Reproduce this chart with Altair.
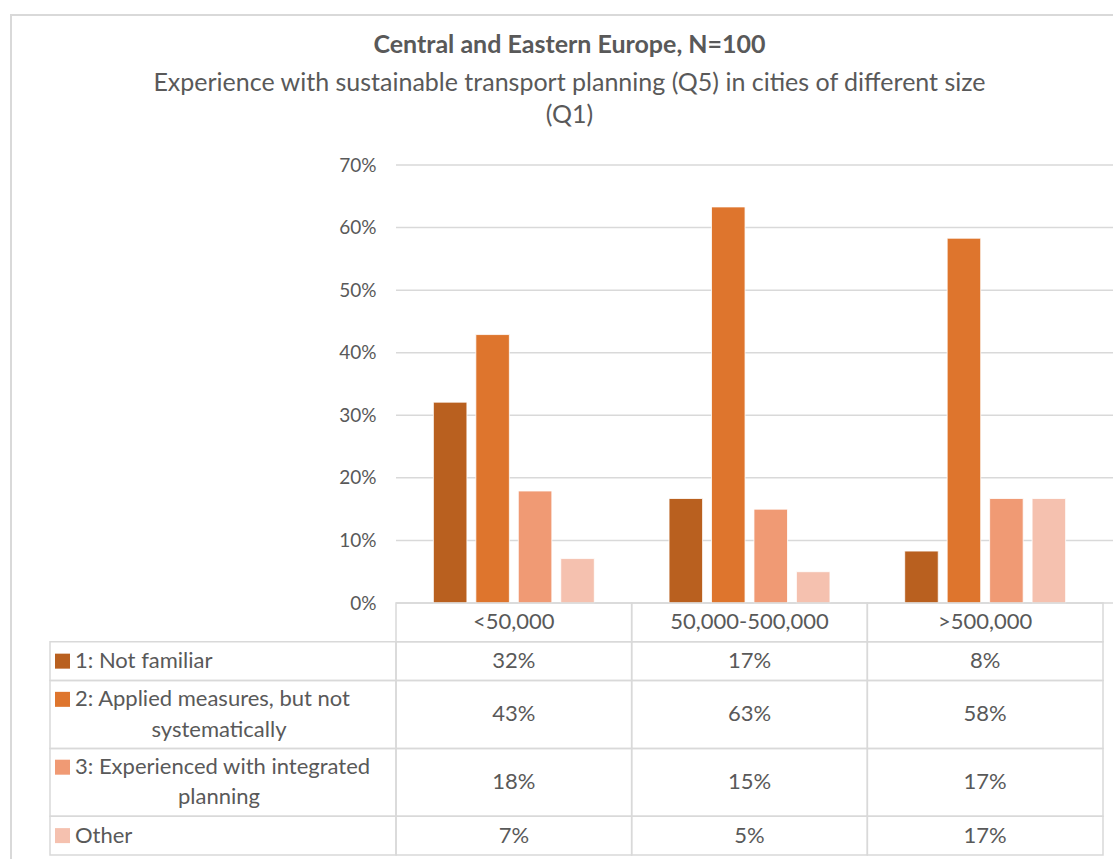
import altair as alt
import pandas as pd

# ---- data -------------------------------------------------------------
cities = ["<50,000", "50,000-500,000", ">500,000"]
series = [
    "1: Not familiar",
    "2: Applied measures, but not systematically",
    "3: Experienced with integrated planning",
    "Other",
]
series_lines = [
    ["1: Not familiar"],
    ["2: Applied measures, but not", "systematically"],
    ["3: Experienced with integrated", "planning"],
    ["Other"],
]
not_familiar = [0.321, 0.167, 0.083]
applied_measures = [0.429, 0.633, 0.583]
integrated_planning = [0.179, 0.150, 0.167]
other = [0.071, 0.050, 0.167]
y_ticks = [0.0, 0.1, 0.2, 0.3, 0.4, 0.5, 0.6, 0.7]

colors = ["#B9601F", "#DE752D", "#F09A74", "#F5C1AF"]
TEXT = "#595959"
LINE = "#D9D9D9"
FONT = "Lato"
TABLE_FS = 22

# ---- layout -----------------------------------------------------------
W, H = 1053, 690          # whole view: label column + plot / table
LABEL_W = 346             # width of the row-label column of the data table
PLOT_H = 438              # height of the bar plot
ONE_LINE, TWO_LINES = 1.0, 1.75   # row heights in table units

# ---- frames -----------------------------------------------------------
values_by_series = [not_familiar, applied_measures, integrated_planning, other]
bars = pd.DataFrame(
    [
        {"city": c, "series": s, "value": vals[i]}
        for s, vals in zip(series, values_by_series)
        for i, c in enumerate(cities)
    ]
)

rows = []
pos = ONE_LINE  # header row occupies the first unit
for s, lines in zip(series, series_lines):
    h = ONE_LINE if len(lines) == 1 else TWO_LINES
    mid = pos + h / 2
    rows.append(
        {
            "series": s,
            "top": pos,
            "bottom": pos + h,
            "mid": mid,
            "line1": lines[0],
            "line2": lines[1] if len(lines) > 1 else "",
            "y1": mid if len(lines) == 1 else mid - 0.39,
            "y2": mid + 0.39,
        }
    )
    pos += h
total_units = pos
rows = pd.DataFrame(rows)
cells = bars.merge(rows, on="series")
header = pd.DataFrame({"city": cities, "top": 0.0, "bottom": ONE_LINE, "mid": ONE_LINE / 2})
grid = pd.DataFrame({"tick": y_ticks})

# ---- scales -----------------------------------------------------------
x_city = alt.Scale(domain=cities, range=[LABEL_W, W], paddingInner=0, paddingOuter=0)
y_pct = alt.Scale(domain=[0, 0.7], range=[PLOT_H, 0], nice=False, zero=True)
y_tab = alt.Scale(domain=[0, total_units], range=[PLOT_H, H], nice=False, zero=False)
color_scale = alt.Scale(domain=series, range=colors)

X = alt.X("city:N", scale=x_city, axis=None, sort=cities)

# outer chart-area border
frame = alt.Chart(pd.DataFrame({"k": [0]})).mark_rect(
    fillOpacity=0, stroke=LINE, strokeWidth=2
).encode(x=alt.value(-39), x2=alt.value(1090), y=alt.value(-150), y2=alt.value(720))

gridlines = alt.Chart(grid).mark_rule(color=LINE, strokeWidth=1.5).encode(
    y=alt.Y("tick:Q", scale=y_pct, axis=None),
    x=alt.value(LABEL_W),
    x2=alt.value(W + 12),
)

bar_layer = alt.Chart(bars).mark_bar(stroke="white", strokeWidth=0.8).encode(
    x=X,
    xOffset=alt.XOffset(
        "series:N", scale=alt.Scale(domain=series, paddingInner=0.21, paddingOuter=0.88)
    ),
    y=alt.Y(
        "value:Q",
        scale=y_pct,
        axis=alt.Axis(
            values=y_ticks,
            format=".0%",
            offset=-LABEL_W,
            grid=False,
            domain=False,
            ticks=False,
            labelPadding=20,
            labelFontSize=19,
            labelFont=FONT,
            labelColor=TEXT,
            title=None,
        ),
    ),
    color=alt.Color("series:N", scale=color_scale, legend=None),
)

cell_style = dict(fillOpacity=0, stroke=LINE, strokeWidth=1.5)
text_style = dict(font=FONT, fontSize=TABLE_FS, color=TEXT, baseline="middle")

header_cells = alt.Chart(header).mark_rect(**cell_style).encode(
    x=X,
    y=alt.Y("top:Q", scale=y_tab, axis=None),
    y2="bottom:Q",
)
header_text = alt.Chart(header).mark_text(**text_style).encode(
    x=X, y=alt.Y("mid:Q", scale=y_tab, axis=None), text="city:N"
)

value_cells = alt.Chart(cells).mark_rect(**cell_style).encode(
    x=X,
    y=alt.Y("top:Q", scale=y_tab, axis=None),
    y2="bottom:Q",
)
value_text = alt.Chart(cells).mark_text(**text_style).encode(
    x=X,
    y=alt.Y("mid:Q", scale=y_tab, axis=None),
    text=alt.Text("value:Q", format=".0%"),
)

label_cells = alt.Chart(rows).mark_rect(**cell_style).encode(
    x=alt.value(0),
    x2=alt.value(LABEL_W),
    y=alt.Y("top:Q", scale=y_tab, axis=None),
    y2="bottom:Q",
)
label_keys = alt.Chart(rows).mark_square(size=225, opacity=1).encode(
    x=alt.value(12.5),
    y=alt.Y("y1:Q", scale=y_tab, axis=None),
    color=alt.Color("series:N", scale=color_scale, legend=None),
)
label_line1 = alt.Chart(rows).mark_text(align="left", **text_style).encode(
    x=alt.value(25),
    y=alt.Y("y1:Q", scale=y_tab, axis=None),
    text="line1:N",
)
label_line2 = alt.Chart(rows[rows["line2"] != ""]).mark_text(align="center", **text_style).encode(
    x=alt.value(169),
    y=alt.Y("y2:Q", scale=y_tab, axis=None),
    text="line2:N",
)

chart = (
    alt.layer(
        frame,
        gridlines,
        bar_layer,
        header_cells,
        header_text,
        value_cells,
        value_text,
        label_cells,
        label_keys,
        label_line1,
        label_line2,
    )
    .resolve_scale(y="independent")
    .properties(
        width=W,
        height=H,
        autosize=alt.AutoSizeParams(type="none"),
        padding={"left": 50, "top": 165, "right": 10, "bottom": 4},
        title=alt.Title(
            "Central and Eastern Europe, N=100",
            subtitle=[
                "Experience with sustainable transport planning (Q5) in cities of different size",
                "(Q1)",
            ],
            anchor="middle",
            dx=-7,
            offset=-114,
            font=FONT,
            fontSize=25,
            fontWeight="bold",
            color=TEXT,
            subtitleFont=FONT,
            subtitleFontSize=25,
            subtitleColor=TEXT,
            subtitleLineHeight=32,
            subtitlePadding=13,
        ),
    )
    .configure_view(stroke=None)
)

chart.save("out.html", embed_options={"renderer": "svg", "actions": False})
